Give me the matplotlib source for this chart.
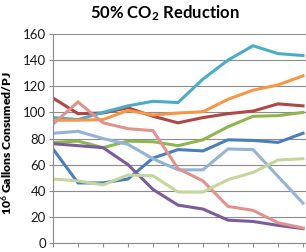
import matplotlib
matplotlib.use('Agg')
import matplotlib.pyplot as plt
import numpy as np

# values, 11 points per series
steps = list(range(11))
dark_blue = [72, 46, 46, 49, 65, 71.5, 70.5, 79, 78.5, 77, 84]
dark_red = [111, 99, 99.5, 103.5, 97, 92, 96, 99, 101, 106.5, 105]
green = [77, 78, 73, 78, 77.5, 74.5, 79, 89, 97, 97.5, 100]
purple = [76, 74.5, 73, 60, 41, 29, 26, 17.5, 16.5, 13.5, 11]
teal = [96, 94.5, 100, 105, 108.5, 107.5, 125.5, 140, 151, 145, 143.5]
orange = [94, 94, 94.5, 101.5, 98, 99.5, 100.5, 110, 117, 121, 128]
light_blue = [84, 85.5, 80, 75.5, 64.5, 56, 56, 72, 71.5, 51, 30.5]
pink = [91, 108, 92, 87.5, 86, 57, 47.5, 28, 25, 15.5, 11.5]
light_green = [49, 47.5, 44.5, 52, 51.5, 39, 39, 48.5, 54, 63.5, 64.5]

series = [
    (dark_blue, '#4A7EBB'),
    (dark_red, '#B04743'),
    (green, '#8FB54E'),
    (purple, '#7A5C9A'),
    (teal, '#4BACC6'),
    (orange, '#F79646'),
    (light_blue, '#95B3D7'),
    (pink, '#E0928E'),
    (light_green, '#C3D69B'),
]

plt.rcParams['font.family'] = ['Lato', 'DejaVu Sans']
plt.rcParams['mathtext.fontset'] = 'custom'
plt.rcParams['mathtext.rm'] = 'Lato:bold'
plt.rcParams['mathtext.default'] = 'rm'

fig = plt.figure(figsize=(3.06, 2.52), dpi=100)
ax = fig.add_axes([53/306, 9/252, 253/306, 209/252])

for vals, col in series:
    ax.plot(steps, vals, color=col, lw=2.2, solid_joinstyle='miter')

ax.set_xlim(0, 10.12)
ax.set_ylim(0, 160)
ax.set_yticks(np.arange(0, 161, 20))
ax.set_xticks(steps)
ax.set_xticklabels([])
ax.grid(axis='y', color='#8c8c8c', lw=0.8)
ax.set_axisbelow(True)
for s in ['top', 'right']:
    ax.spines[s].set_visible(False)
for s in ['left', 'bottom']:
    ax.spines[s].set_color('#8c8c8c')
    ax.spines[s].set_linewidth(0.8)
ax.tick_params(axis='both', direction='out', length=3, color='#8c8c8c', width=0.8)
ax.tick_params(axis='y', labelsize=9.5, labelcolor='#1a1a1a', pad=2)

fig.text(7/306, 1 - 143/252, '10$^{6}$ Gallons Consumed/PJ', rotation=90,
         ha='center', va='center', fontsize=8.7, fontweight='heavy')
fig.text(165/306, 1 - 13/252, '50% CO$_{2}$ Reduction', ha='center', va='center',
         fontsize=12, fontweight='bold')

fig.savefig('out.png', dpi=100)
